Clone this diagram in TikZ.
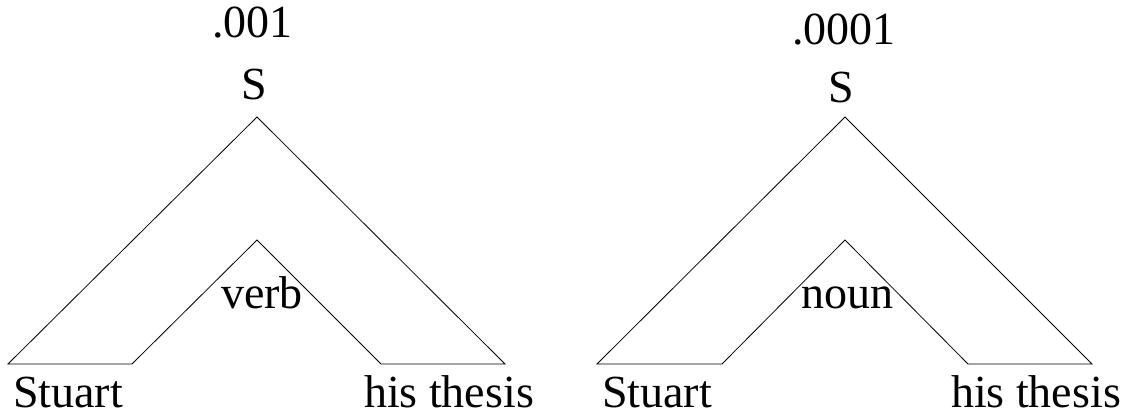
\documentclass[tikz,border=0pt]{standalone}
\usepackage{fontspec}
\setmainfont{Liberation Serif}
\begin{document}
\begin{tikzpicture}[x=1pt,y=-1pt,
  lbl/.style={inner sep=0pt,outer sep=0pt,font=\fontsize{46}{50}\selectfont},
  treeline/.style={draw=black,line width=0.8pt,line join=miter}]
\useasboundingbox (0,0) rectangle (1132,414);
% left tree
\coordinate (LA) at (257,117);
\coordinate (L1) at (8,364);
\coordinate (L2) at (132,364);
\coordinate (LI) at (257,240);
\coordinate (L3) at (381,364);
\coordinate (L4) at (505,364);
\draw[treeline] (LA) -- (L1) -- (L2) -- (LI) -- (L3) -- (L4) -- cycle;
\node[lbl,anchor=base west] (lp) at (212,38) {.001};
\node[lbl,anchor=base] (ls) at (254,100) {S};
\node[lbl,anchor=base] (lv) at (262,308) {verb};
\node[lbl,anchor=base west] (lst) at (13,407) {Stuart};
\node[lbl,anchor=base west] (lht) at (364,407) {his thesis};
% right tree
\coordinate (RA) at (845,117);
\coordinate (R1) at (597,364);
\coordinate (R2) at (722,364);
\coordinate (RI) at (845,240);
\coordinate (R3) at (968,364);
\coordinate (R4) at (1092,364);
\draw[treeline] (RA) -- (R1) -- (R2) -- (RI) -- (R3) -- (R4) -- cycle;
\node[lbl,anchor=base west] (rp) at (792,45) {.0001};
\node[lbl,anchor=base] (rs) at (841,103) {S};
\node[lbl,anchor=base] (rn) at (847,308) {noun};
\node[lbl,anchor=base west] (rst) at (602,407) {Stuart};
\node[lbl,anchor=base west] (rht) at (951,407) {his thesis};
\end{tikzpicture}
\end{document}
